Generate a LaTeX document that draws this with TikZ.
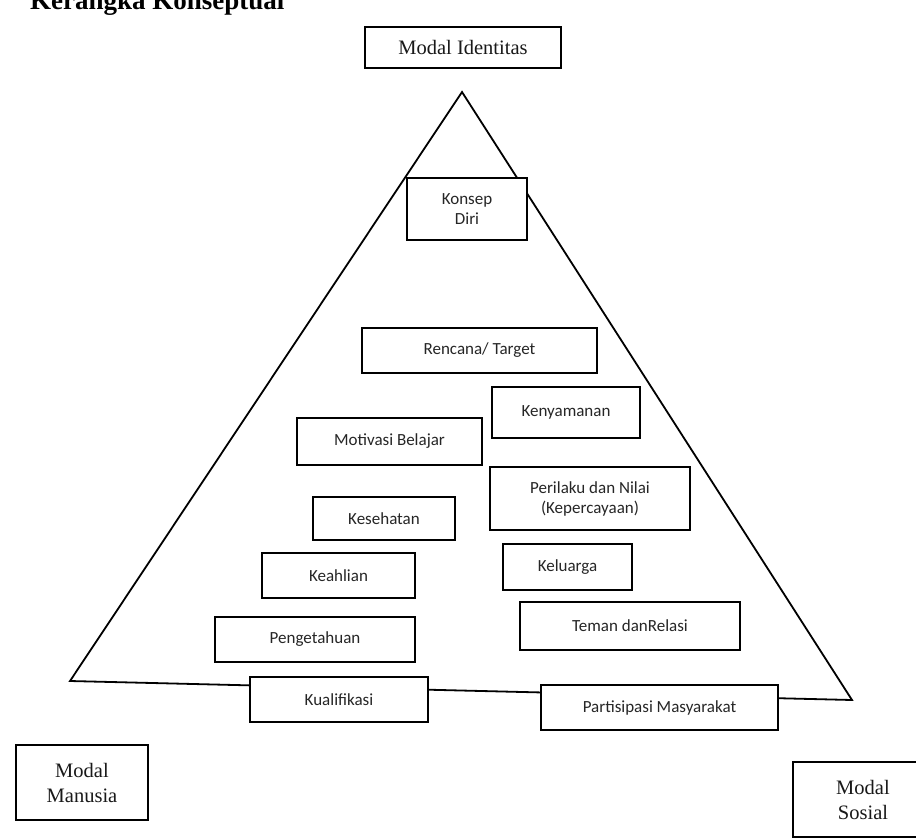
\documentclass[tikz,border=0pt]{standalone}
\usepackage{fontspec}
\setmainfont{Liberation Serif}
\newfontfamily\boxfont{Carlito}
\begin{document}
\begin{tikzpicture}[x=1pt,y=-1pt,
  inbox/.style={draw=black, line width=1.9pt, fill=white, align=center, inner sep=0pt,
    font=\boxfont\fontsize{17}{20}\selectfont, text=black!85},
  outbox/.style={draw=black, line width=1.9pt, fill=white, align=center, inner sep=0pt,
    font=\fontsize{20.5}{25}\selectfont, text=black!90},
  tri/.style={draw=black, line width=1.8pt, line join=miter}]
\useasboundingbox (0,0) rectangle (916,839);
\node[anchor=base west, inner sep=0pt, font=\bfseries\fontsize{27}{30}\selectfont] (title) at (30,9) {Kerangka Konseptual};
% triangle
\coordinate (A) at (462,92);
\coordinate (L) at (70,681);
\coordinate (R) at (852,700);
\draw[tri] (L) -- (A) -- (R) -- cycle;
% outer boxes
\node[outbox, minimum width=196pt, minimum height=41pt] (mi) at (463,47.5) {Modal Identitas};
\node[outbox, minimum width=132pt, minimum height=75pt] (mm) at (82,782.5) {Modal\\Manusia};
\node[outbox, minimum width=140pt, minimum height=75pt, text width=134pt] (ms) at (863,799.5) {Modal\\Sosial};
% inner boxes
\node[inbox, minimum width=120pt, minimum height=62pt] (kd) at (467,209) {Konsep\\Diri};
\node[inbox, minimum width=235pt, minimum height=45pt] (rt) at (479.5,350.5) {Rencana/ Target};
\node[inbox, minimum width=148pt, minimum height=51pt] (ky) at (566,412.5) {Kenyamanan};
\node[inbox, minimum width=185pt, minimum height=47pt] (mb) at (389.5,441.5) {Motivasi Belajar};
\node[inbox, minimum width=200pt, minimum height=63pt] (pn) at (590,498.5) {Perilaku dan Nilai\\(Kepercayaan)};
\node[inbox, minimum width=142pt, minimum height=43pt] (ks) at (384,518.5) {Kesehatan};
\node[inbox, minimum width=153pt, minimum height=45pt] (kh) at (338.5,575.5) {Keahlian};
\node[inbox, minimum width=129pt, minimum height=46pt] (kl) at (567.5,567) {Keluarga};
\node[inbox, minimum width=200pt, minimum height=45pt] (pg) at (315,639.5) {Pengetahuan};
\node[inbox, minimum width=220pt, minimum height=48pt] (tr) at (630,626) {Teman danRelasi};
\node[inbox, minimum width=178pt, minimum height=45pt] (kf) at (339,699.5) {Kualifikasi};
\node[inbox, minimum width=237pt, minimum height=45pt] (pm) at (659.5,707.5) {Partisipasi Masyarakat};
\end{tikzpicture}
\end{document}
